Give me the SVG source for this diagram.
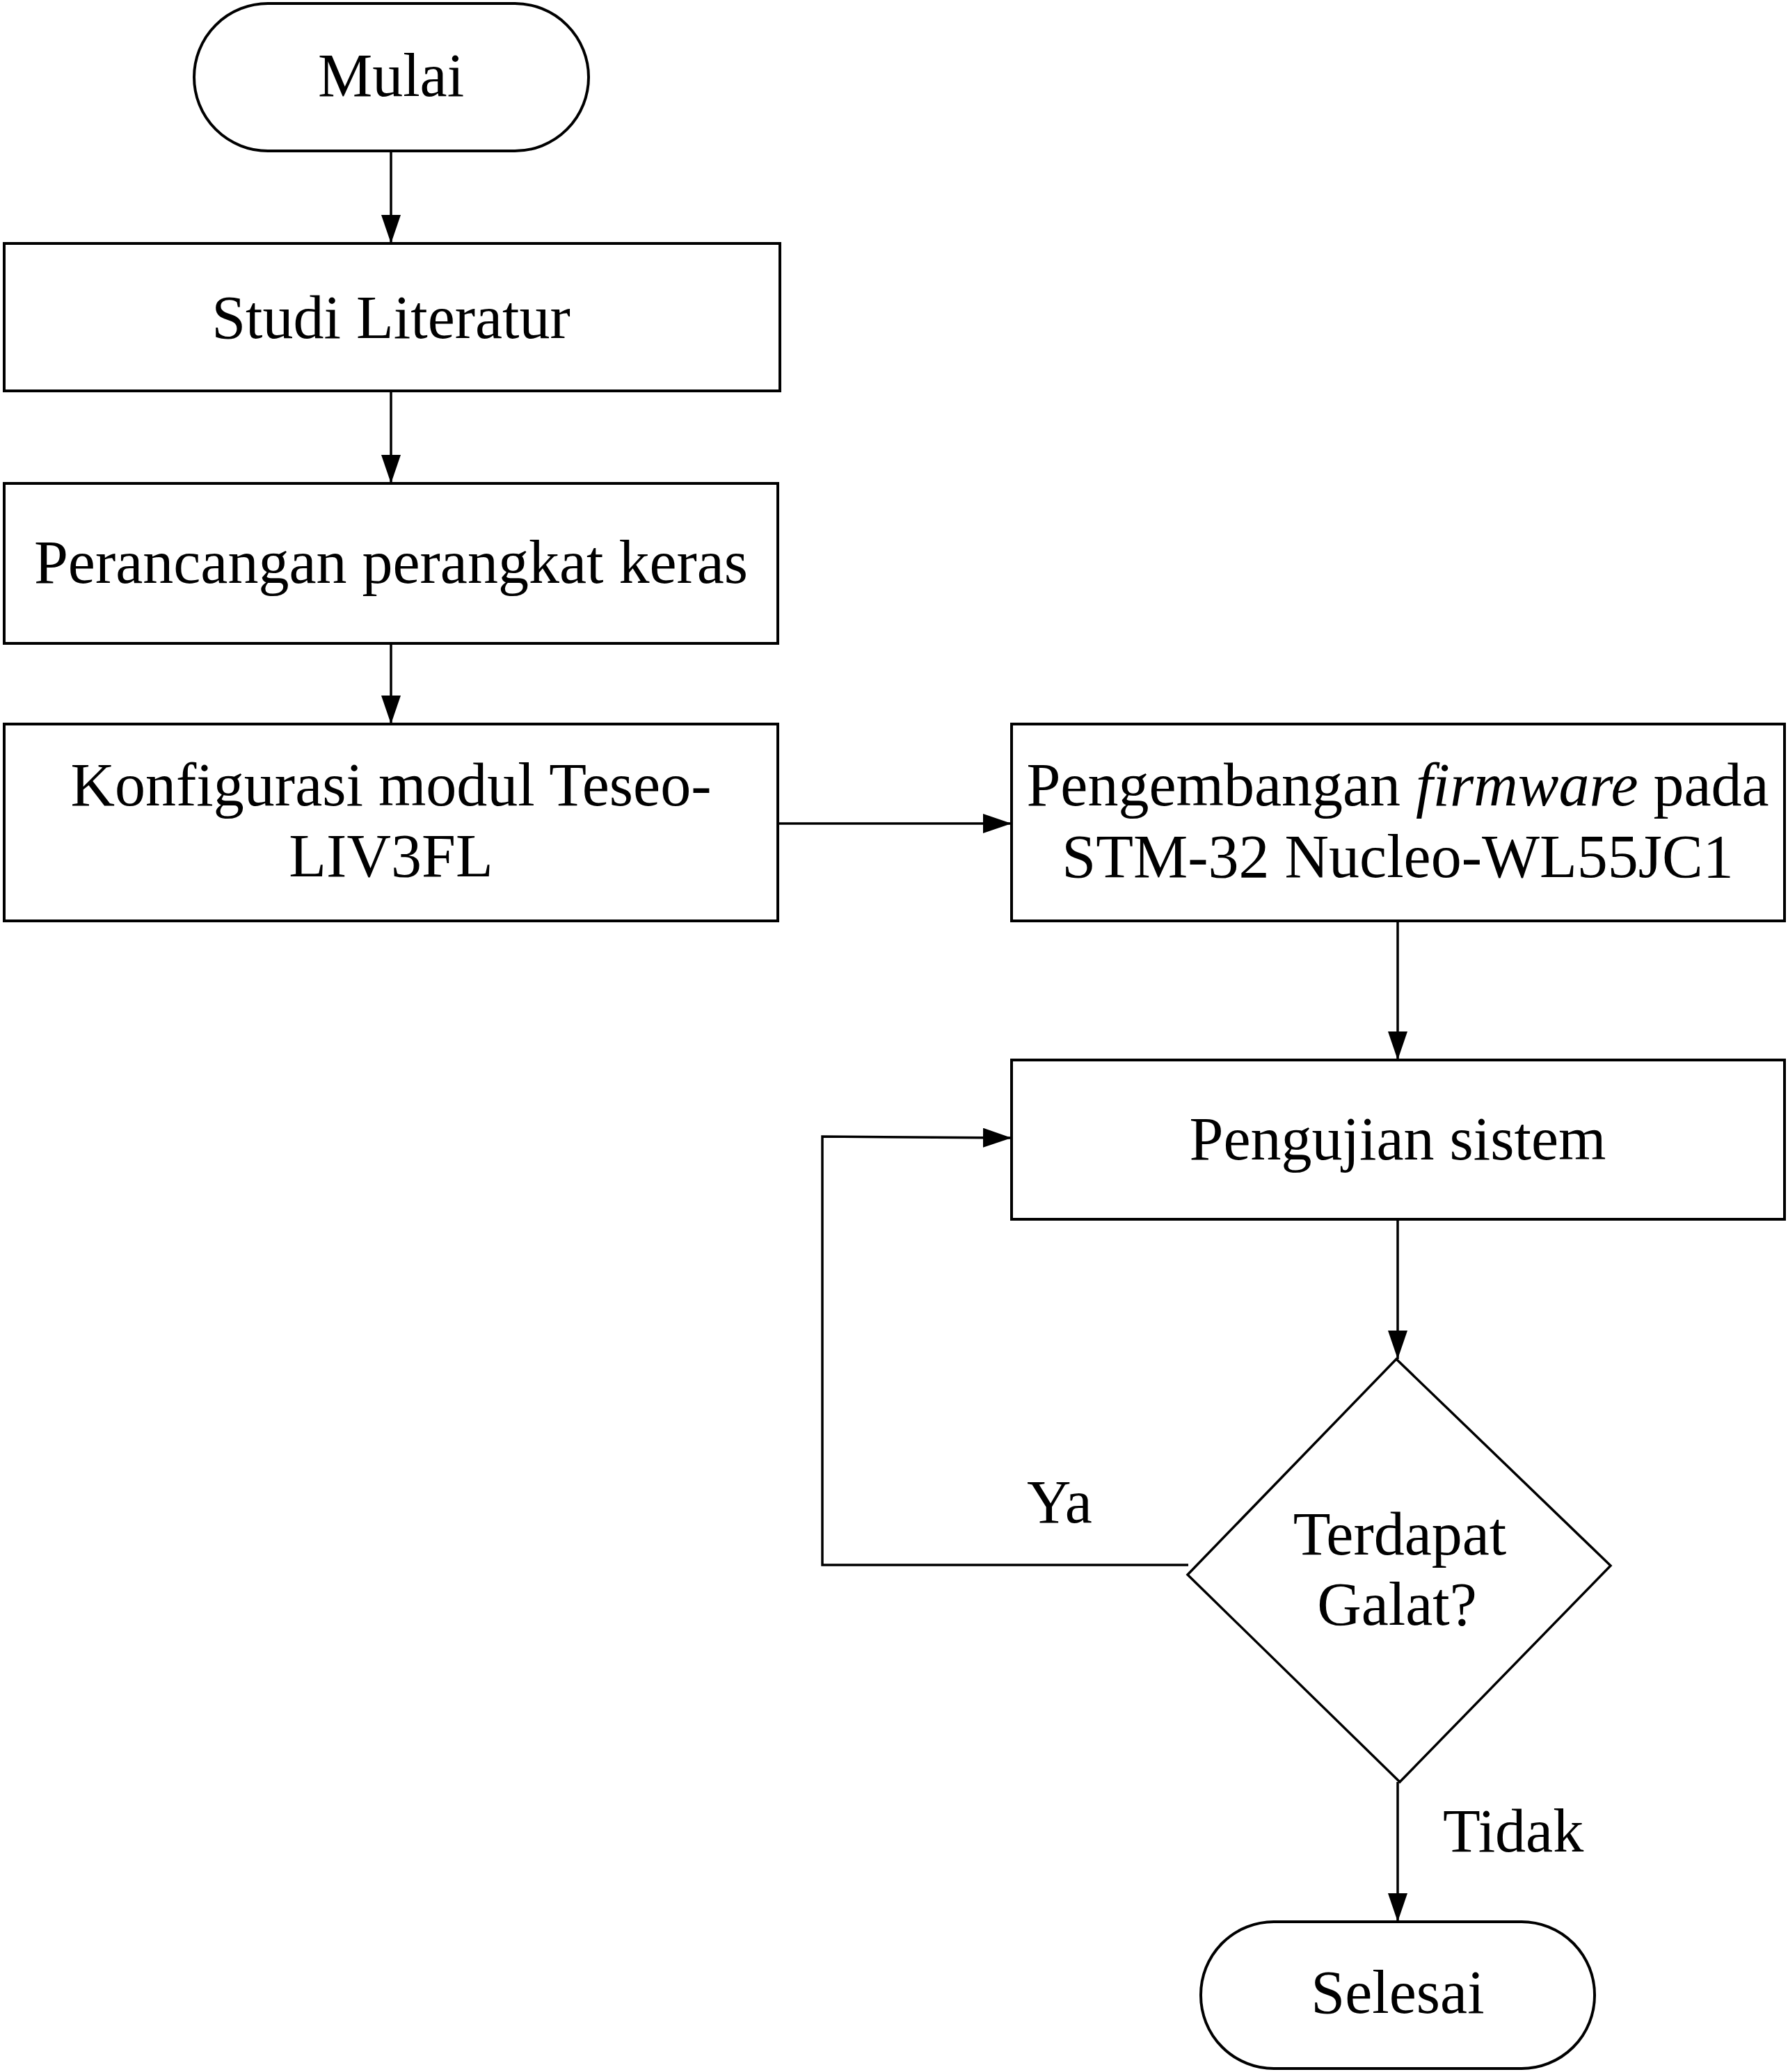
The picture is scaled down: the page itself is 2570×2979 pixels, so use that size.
<svg xmlns="http://www.w3.org/2000/svg" width="2570" height="2979" viewBox="0 0 2570 2979">
<style>
.shape{fill:#fff;stroke:#000;stroke-width:4}
.dia{fill:#fff;stroke:#000;stroke-width:3.5}
.lbl{font-family:"Liberation Serif","Times New Roman",serif;font-size:88px;fill:#000;text-anchor:middle}
.free{font-family:"Liberation Serif","Times New Roman",serif;font-size:88px;fill:#000}
.conn{fill:none;stroke:#000;stroke-width:3.5}
</style>
<defs>
<marker id="arr" markerUnits="userSpaceOnUse" markerWidth="42" markerHeight="30" refX="41" refY="14" orient="auto">
<path d="M0,0 L41,14 L0,28 z" fill="#000"/>
</marker>
</defs>
<rect width="2570" height="2979" fill="#fff"/>
<g id="connectors">
<line class="conn" x1="562" y1="217" x2="562" y2="350" marker-end="url(#arr)"/>
<line class="conn" x1="562" y1="562" x2="562" y2="695" marker-end="url(#arr)"/>
<line class="conn" x1="562" y1="925" x2="562" y2="1041" marker-end="url(#arr)"/>
<line class="conn" x1="1118" y1="1184" x2="1454" y2="1184" marker-end="url(#arr)"/>
<line class="conn" x1="2009" y1="1324" x2="2009" y2="1524" marker-end="url(#arr)"/>
<line class="conn" x1="2009" y1="1753" x2="2009" y2="1954" marker-end="url(#arr)"/>
<polyline class="conn" points="1708,2250 1182,2250 1182,1634 1454,1636" marker-end="url(#arr)"/>
<line class="conn" x1="2009" y1="2562" x2="2009" y2="2763" marker-end="url(#arr)"/>
<text class="free" x="1476" y="2189">Ya</text>
<text class="free" x="2074" y="2662">Tidak</text>
</g>
<g id="mulai">
<rect class="shape" x="279" y="5" width="567" height="212" rx="106" ry="106"/>
<text class="lbl" x="562" y="138">Mulai</text>
</g>
<g id="studi">
<rect class="shape" x="6" y="350" width="1115" height="212"/>
<text class="lbl" x="562" y="486">Studi Literatur</text>
</g>
<g id="perancangan">
<rect class="shape" x="6" y="695" width="1112" height="230"/>
<text class="lbl" x="562" y="838">Perancangan perangkat keras</text>
</g>
<g id="konfigurasi">
<rect class="shape" x="6" y="1041" width="1112" height="283"/>
<text class="lbl" x="562" y="1158">Konfigurasi modul Teseo-</text>
<text class="lbl" x="562" y="1260">LIV3FL</text>
</g>
<g id="pengembangan">
<rect class="shape" x="1454" y="1041" width="1111" height="283"/>
<text class="lbl" x="2009" y="1158">Pengembangan <tspan font-style="italic">firmware</tspan> pada</text>
<text class="lbl" x="2009" y="1261">STM-32 Nucleo-WL55JC1</text>
</g>
<g id="pengujian">
<rect class="shape" x="1454" y="1524" width="1111" height="229"/>
<text class="lbl" x="2009" y="1667">Pengujian sistem</text>
</g>
<g id="keputusan">
<polygon class="dia" points="2007,1954 2315,2251 2012,2562 1707,2264"/>
<text class="lbl" x="2012" y="2235">Terdapat</text>
<text class="lbl" x="2008" y="2336">Galat?</text>
</g>
<g id="selesai">
<rect class="shape" x="1726" y="2763" width="566" height="211" rx="105" ry="105"/>
<text class="lbl" x="2009" y="2894">Selesai</text>
</g>
</svg>
